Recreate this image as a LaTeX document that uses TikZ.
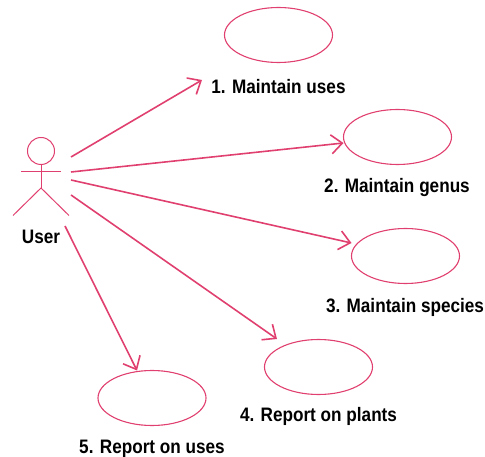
\documentclass[tikz,border=0pt]{standalone}
\usepackage{fontspec}
\setmainfont[FakeStretch=0.88]{Liberation Sans}
\usetikzlibrary{arrows.meta,shapes.geometric}
\definecolor{umlpink}{HTML}{E0406F}
\tikzset{
  usecase/.style={draw=umlpink,line width=1.1pt,ellipse,minimum width=108pt,minimum height=55pt,inner sep=0pt},
  caption/.style={font=\fontsize{19.5pt}{22pt}\selectfont\bfseries,text=black,inner sep=0pt,anchor=center},
  assoc/.style={draw=umlpink,line width=1.6pt,-{Straight Barb[length=11pt,width=19pt,line width=1.6pt]}},
  stick/.style={draw=umlpink,line width=1pt},
}
\begin{document}
\begin{tikzpicture}[x=1pt,y=-1pt]
\useasboundingbox (0,0) rectangle (485,457);
% use cases
\node[usecase] (uc1) at (278.5,35) {};
\node[usecase] (uc2) at (397.5,137) {};
\node[usecase] (uc3) at (405.5,256) {};
\node[usecase] (uc4) at (318.5,367) {};
\node[usecase] (uc5) at (152,398) {};
% labels
\node[caption] (l1) at (278.5,87) {1. Maintain uses};
\node[caption] (l2) at (397,188) {2. Maintain genus};
\node[caption] (l3) at (405,307) {3. Maintain species};
\node[caption] (l4) at (318.5,416) {4. Report on plants};
\node[caption] (l5) at (152,449) {5. Report on uses};
\node[caption] (user) at (41,237) {User};
% actor
\node[stick,circle,minimum size=27pt,inner sep=0pt] (head) at (41,151) {};
\coordinate (armL) at (21,172);
\coordinate (armR) at (61,172);
\coordinate (hip) at (41,188);
\coordinate (footL) at (13,215.5);
\coordinate (footR) at (69,215.5);
\draw[stick] (head.south) -- (hip);
\draw[stick] (armL) -- (armR);
\draw[stick] (footL) -- (hip) -- (footR);
% connector ends
\coordinate (s1) at (71,157);
\coordinate (s2) at (71,172);
\coordinate (s3) at (71,180);
\coordinate (s4) at (71,195);
\coordinate (s5) at (65,226);
\coordinate (e1) at (202,80);
\coordinate (e2) at (343.5,143);
\coordinate (e3) at (351.5,243);
\coordinate (e4) at (277,339);
\coordinate (e5) at (137,370.5);
\draw[assoc] (s1) -- (e1);
\draw[assoc] (s2) -- (e2);
\draw[assoc] (s3) -- (e3);
\draw[assoc] (s4) -- (e4);
\draw[assoc] (s5) -- (e5);
\end{tikzpicture}
\end{document}
